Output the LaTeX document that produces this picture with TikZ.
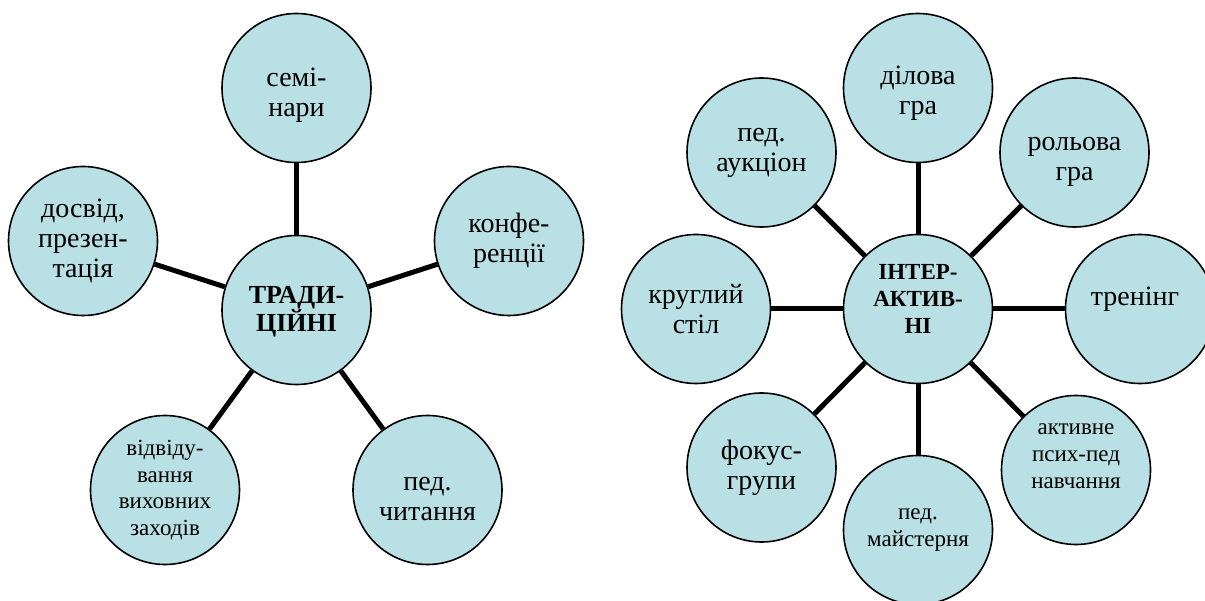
\documentclass[tikz,border=0pt]{standalone}
\usepackage{fontspec}
\setmainfont{Liberation Serif}
\definecolor{cfill}{RGB}{185,224,228}
\tikzset{
 bub/.style={circle, draw=black, line width=1.6pt, fill=cfill, minimum size=149pt, inner sep=0pt},
 txt/.style={align=center, inner sep=0pt, font=\fontsize{28}{30}\selectfont},
 smalltxt/.style={txt, font=\fontsize{23}{26.7}\selectfont},
 hubtxt/.style={txt, font=\bfseries\fontsize{26}{28}\selectfont},
 hubtxtb/.style={txt, font=\bfseries\fontsize{23}{27}\selectfont},
 link/.style={line width=5pt}
}
\begin{document}
\begin{tikzpicture}[x=1pt,y=-1pt]
\useasboundingbox (0,0) rectangle (1205,601);
% left diagram
\node[bub] (t) at (296.5,310) {};
\node[bub] (sem) at (296.5,88) {};
\node[bub] (dos) at (83,241) {};
\node[bub] (konf) at (509,241) {};
\node[bub] (vid) at (165,490) {};
\node[bub] (chyt) at (427.5,490) {};
\node[hubtxt] at ([yshift=-2pt]t) {ТРАДИ-\\ЦІЙНІ};
\node[txt] at ([yshift=-7pt]sem) {семі-\\нари};
\node[txt] at (dos) {досвід,\\презен-\\тація};
\node[txt] at (konf) {конфе-\\ренції};
\node[smalltxt] at (vid) {відвіду-\\вання\\виховних\\заходів};
\node[txt] at ([yshift=-9pt]chyt) {пед.\\читання};
\draw[link] (t) -- (sem);
\draw[link] (t) -- (dos);
\draw[link] (t) -- (konf);
\draw[link] (t) -- (vid);
\draw[link] (t) -- (chyt);
% right diagram
\node[bub] (i) at (918,309) {};
\node[bub] (dil) at (918,88) {};
\node[bub] (auk) at (761.5,152.5) {};
\node[bub] (rol) at (1074.5,152.5) {};
\node[bub] (kr) at (696,309) {};
\node[bub] (tr) at (1140,309) {};
\node[bub] (fok) at (761.5,467.5) {};
\node[bub] (akt) at (1076,470) {};
\node[bub] (may) at (918,530) {};
\node[hubtxtb] at ([yshift=10pt]i) {ІНТЕР-\\АКТИВ-\\НІ};
\node[txt] at ([yshift=-5pt]dil) {ділова\\гра};
\node[txt] at (auk) {пед.\\аукціон};
\node[txt] at ([yshift=-9pt]rol) {рольова\\гра};
\node[txt] at (kr) {круглий\\стіл};
\node[txt] at ([xshift=-5pt,yshift=10pt]tr) {тренінг};
\node[txt] at (fok) {фокус-\\групи};
\node[smalltxt] at ([yshift=14pt]akt) {активне\\псих-пед\\навчання};
\node[smalltxt] at (may) {пед.\\майстерня};
\draw[link] (i) -- (dil);
\draw[link] (i) -- (auk);
\draw[link] (i) -- (rol);
\draw[link] (i) -- (kr);
\draw[link] (i) -- (tr);
\draw[link] (i) -- (fok);
\draw[link] (i) -- (akt);
\draw[link] (i) -- (may);
\end{tikzpicture}
\end{document}
